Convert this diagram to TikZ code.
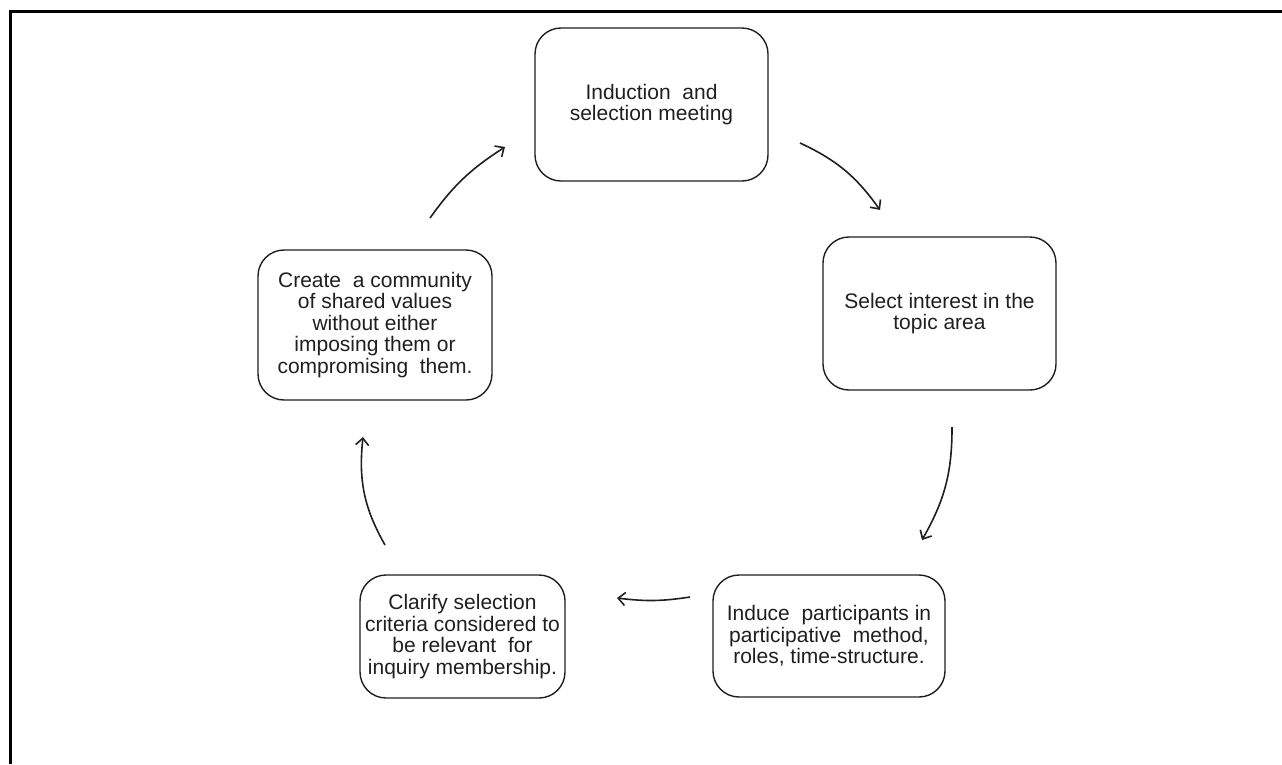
\documentclass[tikz,border=0pt]{standalone}
\usepackage{fontspec}
\setmainfont{Liberation Sans}
\usetikzlibrary{arrows.meta,bending}
\definecolor{ink}{HTML}{1F1F1F}
\tikzset{
  stagebox/.style={draw=ink, line width=1.4pt, rounded corners=26pt,
    align=center, font=\fontsize{21}{21.5}\selectfont, text=ink,
    inner sep=0pt},
  flow/.style={draw=ink, line width=1.6pt,
    -{Straight Barb[length=7pt,width=13pt,line width=1.6pt,bend]}, bend left=15},
}
\begin{document}
\begin{tikzpicture}[x=1pt,y=-1pt]
  \useasboundingbox (0,0) rectangle (1282,764);
  % frame edges
  \draw[line width=3pt, black] (10,764) -- (10,11.5) -- (1282,11.5);

  % stages of the cycle
  \node[stagebox, minimum width=233pt, minimum height=153pt] (meet) at (651.5,104.5)
    {Induction\ \ and\\selection meeting};
  \node[stagebox, minimum width=233pt, minimum height=153pt] (topic) at (939.5,313.5)
    {Select interest in the\\topic area};
  \node[stagebox, minimum width=232pt, minimum height=122pt] (induce) at (829,636)
    {Induce\ \ participants in\\participative\ \ method,\\roles, time-structure.};
  \node[stagebox, minimum width=205pt, minimum height=123pt] (clarify) at (462.5,636.5)
    {Clarify selection\\criteria considered to\\be relevant\ \ for\\inquiry membership.};
  \node[stagebox, minimum width=234pt, minimum height=150pt] (values) at (375,325)
    {Create\ \ a community\\of shared values\\without either\\imposing them or\\compromising\ \ them.};

  % connector end points
  \coordinate (m-out) at (800,143);
  \coordinate (t-in) at (880,210);
  \coordinate (t-out) at (952,427);
  \coordinate (i-in) at (922,540);
  \coordinate (i-out) at (690,597);
  \coordinate (c-in) at (617,598);
  \coordinate (c-out) at (385,545);
  \coordinate (v-in) at (363,437);
  \coordinate (v-out) at (430,218);
  \coordinate (m-in) at (505,147);

  \draw[flow] (m-out) to (t-in);
  \draw[flow] (t-out) to (i-in);
  \draw[flow, bend left=8] (i-out) to (c-in);
  \draw[flow, bend left=18] (c-out) to (v-in);
  \draw[flow, bend left=11] (v-out) to (m-in);
\end{tikzpicture}
\end{document}
